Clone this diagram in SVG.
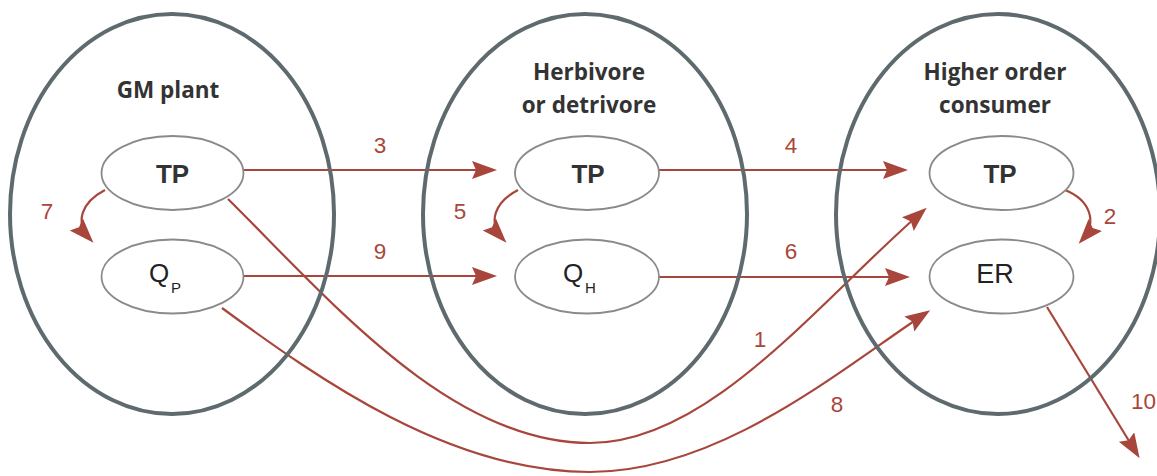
<svg xmlns="http://www.w3.org/2000/svg" width="1157" height="476" viewBox="0 0 1157 476">
<defs>
<marker id="ah" markerUnits="userSpaceOnUse" markerWidth="26" markerHeight="20" refX="20" refY="9" orient="auto" viewBox="0 0 26 20">
<path d="M0,0 L25,9 L0,18 L4,9 Z" fill="#a8463c"/>
</marker>
<style>
.big{fill:none;stroke:#5f6a6f;stroke-width:4}
.small{fill:#fff;stroke:#8a8a8a;stroke-width:1.8}
.con{fill:none;stroke:#a8463c;stroke-width:2.2;marker-end:url(#ah)}
.num{font-family:"Liberation Sans",Arial,sans-serif;font-size:22.5px;fill:#a8463c;text-anchor:middle}
.title{font-family:"Open Sans","Liberation Sans",sans-serif;font-weight:700;font-size:22.5px;fill:#333;text-anchor:middle}
.bold{font-family:"Liberation Sans",Arial,sans-serif;font-weight:700;font-size:26px;fill:#333;text-anchor:middle}
.reg{font-family:"Liberation Sans",Arial,sans-serif;font-size:26px;fill:#222}
.sub{font-family:"Liberation Sans",Arial,sans-serif;font-size:15px;fill:#222}
</style>
</defs>
<g id="connectors">
<path class="con" d="M244,170 L492,170"/>
<path class="con" d="M659,170 L903,170"/>
<path class="con" d="M244,276 L492,276"/>
<path class="con" d="M659,277 L905,277"/>
<path class="con" d="M105,190 C82,202 74,222 90,239"/>
<path class="con" d="M518,190 C495,202 487,222 503,239"/>
<path class="con" d="M1065,190 C1090,200 1098,222 1082,240"/>
<path class="con" d="M228,199 C330,300 450,443 590,443 C710,443 820,300 923,211"/>
<path class="con" d="M222,308 C320,380 450,472 590,472 C720,472 840,370 926,313"/>
<path class="con" d="M1047,307 L1137,454"/>
<text class="num" x="380" y="153">3</text>
<text class="num" x="791" y="153">4</text>
<text class="num" x="380" y="259">9</text>
<text class="num" x="791" y="259">6</text>
<text class="num" x="47" y="219">7</text>
<text class="num" x="460" y="219">5</text>
<text class="num" x="1110" y="224">2</text>
<text class="num" x="760" y="347">1</text>
<text class="num" x="837" y="412">8</text>
<text class="num" x="1131" y="409" style="text-anchor:start">10</text>
</g>
<g id="gm-plant">
<ellipse class="big" cx="172" cy="214" rx="162" ry="200"/>
<text class="title" x="168" y="98">GM plant</text>
</g>
<g id="herbivore">
<ellipse class="big" cx="585" cy="214" rx="162" ry="200"/>
<text class="title" x="589" y="80">Herbivore</text>
<text class="title" x="589" y="113">or detrivore</text>
</g>
<g id="higher-consumer">
<ellipse class="big" cx="998" cy="214" rx="162" ry="200"/>
<text class="title" x="995" y="80">Higher order</text>
<text class="title" x="995" y="113">consumer</text>
</g>
<g id="gm-tp">
<ellipse class="small" cx="172.5" cy="173" rx="71" ry="37"/>
<text class="bold" x="172.5" y="183">TP</text>
</g>
<g id="gm-qp">
<ellipse class="small" cx="172.5" cy="276.5" rx="71" ry="37"/>
<text class="reg" x="149" y="282">Q</text><text class="sub" x="171" y="293">P</text>
</g>
<g id="herb-tp">
<ellipse class="small" cx="587" cy="173" rx="72" ry="37"/>
<text class="bold" x="588" y="183">TP</text>
</g>
<g id="herb-qh">
<ellipse class="small" cx="587" cy="276.5" rx="72" ry="37"/>
<text class="reg" x="563" y="282">Q</text><text class="sub" x="585" y="293">H</text>
</g>
<g id="hoc-tp">
<ellipse class="small" cx="1001.5" cy="173" rx="72" ry="37"/>
<text class="bold" x="1000" y="183">TP</text>
</g>
<g id="hoc-er">
<ellipse class="small" cx="1001.5" cy="276.5" rx="72" ry="37"/>
<text class="reg" x="995" y="283" style="text-anchor:middle;font-size:27px">ER</text>
</g>
</svg>
